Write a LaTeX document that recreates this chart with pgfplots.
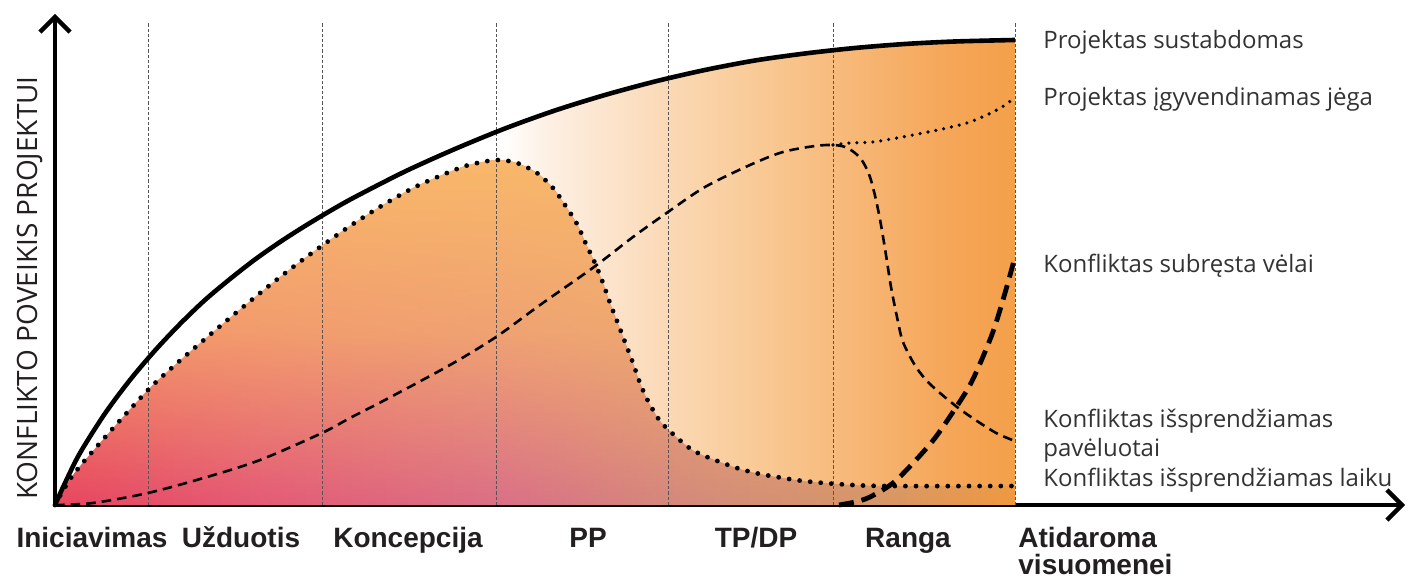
\documentclass[border=0pt]{standalone}
\usepackage{pgfplots}
\pgfplotsset{compat=1.18}
\usepackage{pgfplotstable}
\usepackage{fontspec}
\setmainfont{Open Sans}
\newfontfamily\labfont{Liberation Sans}
\usetikzlibrary{arrows.meta,fadings}

\definecolor{bg1}{HTML}{FDEFE2}
\definecolor{bg2}{HTML}{FBDCBC}
\definecolor{bg3}{HTML}{F9CB98}
\definecolor{bg4}{HTML}{F7B878}
\definecolor{bg5}{HTML}{F5A658}
\definecolor{bg6}{HTML}{F4A04A}
\definecolor{d0}{HTML}{E8455F}
\definecolor{d1}{HTML}{E45A76}
\definecolor{d2}{HTML}{DA7087}
\definecolor{d3}{HTML}{D48C7A}
\definecolor{d4}{HTML}{D69669}
\definecolor{d5}{HTML}{EF983F}
\definecolor{dtop}{HTML}{F9B86A}
\definecolor{txt}{HTML}{333333}
\definecolor{lab}{HTML}{231F20}
\definecolor{gridc}{HTML}{555555}

\pgfdeclarehorizontalshading{bgshade}{100bp}{color(0bp)=(white); color(25bp)=(white); color(48.2bp)=(white); color(50.8bp)=(bg1); color(56bp)=(bg2); color(61.2bp)=(bg3); color(66.4bp)=(bg4); color(71.6bp)=(bg5); color(75bp)=(bg6); color(100bp)=(bg6)}
\pgfdeclarehorizontalshading{dotshade}{100bp}{color(0bp)=(d0); color(25bp)=(d0); color(35.4bp)=(d1); color(48.4bp)=(d2); color(58.9bp)=(d3); color(67.7bp)=(d4); color(75bp)=(d5); color(100bp)=(d5)}
\tikzfading[name=fadeup, top color=transparent!0, bottom color=transparent!100, middle color=transparent!30]

\pgfplotstableread{
x y
0 0
10 22
25 52
50 91.5
75 125
100 154.5
125 181
150 205
175 226
200 245.5
225 263
250 279
275 294
300 308
350 333.5
400 356
450 376.5
500 394.5
550 410
600 423.5
650 435
700 444.5
750 451.5
800 457
850 461
900 463.5
960 465
}\solidtab

\pgfplotstableread{
x y
0 0
18 30
52 70
93 115
120 140
150 166
182 193
215 220
242 241
268 260
295 279
328 300
360 318
392 332
412 339.5
433 344
445 345
462 342
482 332
498 317
510 300
522 281
531 261
540 242
548 222
555 202
562 184
570 163
578 142
585 122
593 104
605 84
618 71
633 58
645 51
665 43
685 36
705 31
728 27
748 24
782 21
828 19
960 19
}\dottab

\pgfplotstableread{
x y
0 0
38 2
93 12
152 28
205 45
267 72
295 87
330 105
395 140
441 168
485 200
539 238
578 268
613 293
650 318
695 340
728 353
760 359
778 360
790 358
800 352
808 343
815 328
821 305
826 280
831 250
836 218
842 188
848 163
861 138
876 120
902 98
925 82
943 71
960 64
}\dashtab

\pgfplotstableread{
x y
778 360
795 362
818 363
842 367
868 372
892 377
915 383
938 393
953 402
960 409
}\forcetab

\pgfplotstableread{
x y
784 0
800 3
815 8
838 22
860 44
880 67
900 96
915 120
927 146
939 176
950 212
960 248
}\latetab

\begin{document}
\begin{tikzpicture}
\begin{axis}[
  x=0.5pt, y=0.5pt,
  xmin=0, xmax=1350, ymin=0, ymax=491,
  axis lines=left,
  axis line style={line width=2.2pt, black, -{Straight Barb[length=7.5pt,width=15pt]}},
  xtick=\empty, ytick=\empty,
  clip=false,
]
% filled areas
\addplot[draw=none, shading=bgshade, smooth, forget plot] table {\solidtab} \closedcycle;
\addplot[draw=none, shading=dotshade, smooth, forget plot] table {\dottab} \closedcycle;
\addplot[draw=none, fill=dtop, path fading=fadeup, smooth, forget plot] table {\dottab} \closedcycle;
% phase separators
\addplot[gridc, line width=0.5pt, dash pattern=on 1.6pt off 1pt, forget plot] coordinates {(93,0) (93,483)};
\addplot[gridc, line width=0.5pt, dash pattern=on 1.6pt off 1pt, forget plot] coordinates {(267,0) (267,483)};
\addplot[gridc, line width=0.5pt, dash pattern=on 1.6pt off 1pt, forget plot] coordinates {(441,0) (441,483)};
\addplot[gridc, line width=0.5pt, dash pattern=on 1.6pt off 1pt, forget plot] coordinates {(613,0) (613,483)};
\addplot[gridc, line width=0.5pt, dash pattern=on 1.6pt off 1pt, forget plot] coordinates {(778,0) (778,483)};
\addplot[gridc, line width=0.5pt, dash pattern=on 1.6pt off 1pt, forget plot] coordinates {(960,0) (960,483)};
% curves
\addplot[black, line width=2.3pt, smooth] table {\solidtab};
\addplot[black, line width=2.4pt, line cap=round, dash pattern=on 0pt off 5.3pt, smooth] table {\dottab};
\addplot[black, line width=1.3pt, dash pattern=on 4.8pt off 3pt, smooth] table {\dashtab};
\addplot[black, line width=1.8pt, line cap=round, dash pattern=on 0pt off 4pt, smooth] table {\forcetab};
\addplot[black, line width=2.4pt, dash pattern=on 7.5pt off 4pt, smooth] table {\latetab};

% right-hand labels
\begin{scope}[every node/.style={anchor=base west, inner sep=0pt, text=txt, font=\fontsize{12}{14}\selectfont}]
\node at (axis cs:988,456) {Projektas sustabdomas};
\node at (axis cs:988,399) {Projektas įgyvendinamas jėga};
\node at (axis cs:988,232) {Konfliktas subręsta vėlai};
\node at (axis cs:988,77) {Konfliktas išsprendžiamas};
\node at (axis cs:988,48) {pavėluotai};
\node at (axis cs:988,18) {Konfliktas išsprendžiamas laiku};
\end{scope}

% y label
\node[rotate=90, inner sep=0pt, text=lab, font=\fontsize{14}{16}\selectfont] at (axis cs:-25,217) {KONFLIKTO POVEIKIS PROJEKTUI};

% phase labels
\begin{scope}[every node/.style={inner sep=0pt, text=lab, font=\labfont\bfseries\fontsize{14}{16}\selectfont}]
\node[anchor=base] at (axis cs:37,-43) {Iniciavimas};
\node[anchor=base] at (axis cs:186,-43) {Užduotis};
\node[anchor=base] at (axis cs:353,-43) {Koncepcija};
\node[anchor=base] at (axis cs:533,-43) {PP};
\node[anchor=base] at (axis cs:701,-43) {TP/DP};
\node[anchor=base] at (axis cs:853,-43) {Ranga};
\node[anchor=base west] at (axis cs:963,-43) {Atidaroma};
\node[anchor=base west] at (axis cs:963,-70) {visuomenei};
\end{scope}

\coordinate (BL) at (axis cs:-55,-76);
\coordinate (TR) at (axis cs:1353,505);
\end{axis}
\pgfresetboundingbox
\path[use as bounding box] (BL) rectangle (TR);
\end{tikzpicture}
\end{document}
